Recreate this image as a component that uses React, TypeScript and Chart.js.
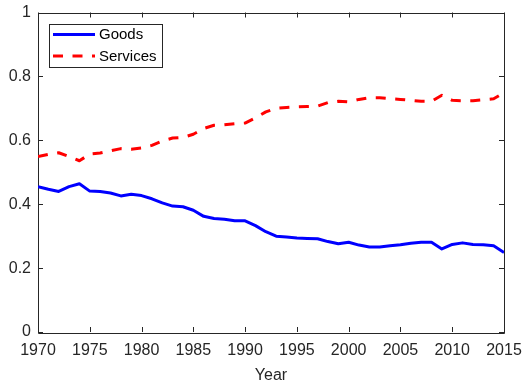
import React, { useEffect, useRef } from "react";
import { Chart, registerables } from "chart.js";

Chart.register(...registerables);

// Shares of goods and services, 1970-2015
const years: number[] = [
  1970, 1971, 1972, 1973, 1974, 1975, 1976, 1977, 1978, 1979,
  1980, 1981, 1982, 1983, 1984, 1985, 1986, 1987, 1988, 1989,
  1990, 1991, 1992, 1993, 1994, 1995, 1996, 1997, 1998, 1999,
  2000, 2001, 2002, 2003, 2004, 2005, 2006, 2007, 2008, 2009,
  2010, 2011, 2012, 2013, 2014, 2015,
];

const goodsShare: number[] = [
  0.455, 0.447, 0.440, 0.455, 0.464, 0.441, 0.440, 0.435, 0.426, 0.431,
  0.427, 0.417, 0.404, 0.394, 0.392, 0.381, 0.362, 0.355, 0.353, 0.348,
  0.348, 0.333, 0.314, 0.300, 0.297, 0.294, 0.293, 0.292, 0.283, 0.276,
  0.281, 0.272, 0.266, 0.266, 0.270, 0.273, 0.278, 0.281, 0.281, 0.260,
  0.274, 0.279, 0.274, 0.273, 0.270, 0.249,
];

const servicesShare: number[] = [
  0.549, 0.556, 0.561, 0.549, 0.536, 0.557, 0.560, 0.567, 0.574, 0.572,
  0.576, 0.584, 0.598, 0.607, 0.609, 0.619, 0.637, 0.647, 0.649, 0.652,
  0.654, 0.670, 0.689, 0.700, 0.703, 0.705, 0.706, 0.707, 0.718, 0.722,
  0.720, 0.728, 0.733, 0.733, 0.730, 0.728, 0.725, 0.722, 0.722, 0.741,
  0.725, 0.724, 0.724, 0.727, 0.730, 0.749,
];

const seriesLabels: string[] = ["Goods", "Services"];
const xTicks: number[] = [1970, 1975, 1980, 1985, 1990, 1995, 2000, 2005, 2010, 2015];
const yTicks: number[] = [0, 0.2, 0.4, 0.6, 0.8, 1];

const FONT = "'Liberation Sans', Arial, Helvetica, sans-serif";
const AXIS_COLOR = "#262626";
const GOODS_COLOR = "#0000ff";
const SERVICES_COLOR = "#ff0000";
const DASH = [10, 9.5];
const LINE_W = 3;

// Box around the plot area with inward tick marks on all four sides
const boxPlugin = {
  id: "axesBox",
  beforeDatasetsDraw(chart: any) {
    const { ctx, chartArea: a, scales } = chart;
    const xs = scales.x;
    const ys = scales.y;
    const tl = 5;
    ctx.save();
    ctx.strokeStyle = AXIS_COLOR;
    ctx.lineWidth = 1;
    ctx.beginPath();
    ctx.rect(Math.round(a.left) + 0.5, Math.round(a.top) + 0.5,
      Math.round(a.right - a.left), Math.round(a.bottom - a.top));
    for (const v of xTicks) {
      const px = Math.round(xs.getPixelForValue(v)) + 0.5;
      ctx.moveTo(px, a.bottom);
      ctx.lineTo(px, a.bottom - tl);
      ctx.moveTo(px, a.top);
      ctx.lineTo(px, a.top + tl);
    }
    for (const v of yTicks) {
      const py = Math.round(ys.getPixelForValue(v)) + 0.5;
      ctx.moveTo(a.left, py);
      ctx.lineTo(a.left + tl, py);
      ctx.moveTo(a.right, py);
      ctx.lineTo(a.right - tl, py);
    }
    ctx.stroke();
    ctx.restore();
  },
};

// Legend in the upper-left corner of the plot area
const legendPlugin = {
  id: "cornerLegend",
  afterDraw(chart: any) {
    const { ctx, chartArea: a } = chart;
    const x0 = a.left + 11;
    const y0 = a.top + 11;
    const w = 113;
    const h = 43;
    ctx.save();
    ctx.fillStyle = "#ffffff";
    ctx.fillRect(x0, y0, w, h);
    ctx.strokeStyle = AXIS_COLOR;
    ctx.lineWidth = 1;
    ctx.strokeRect(Math.round(x0) + 0.5, Math.round(y0) + 0.5, w, h);
    const rows = [
      { label: seriesLabels[0], color: GOODS_COLOR, dash: [] as number[] },
      { label: seriesLabels[1], color: SERVICES_COLOR, dash: DASH },
    ];
    rows.forEach((r, i) => {
      const y = y0 + 11 + i * 21.4;
      ctx.beginPath();
      ctx.setLineDash(r.dash);
      ctx.strokeStyle = r.color;
      ctx.lineWidth = LINE_W;
      ctx.moveTo(x0 + 4, y);
      ctx.lineTo(x0 + 46, y);
      ctx.stroke();
      ctx.setLineDash([]);
      ctx.fillStyle = "#000000";
      ctx.font = `15px ${FONT}`;
      ctx.textBaseline = "middle";
      ctx.textAlign = "left";
      ctx.fillText(r.label, x0 + 50, y + 0.5);
    });
    ctx.restore();
  },
};

export default function App() {
  const canvasRef = useRef<HTMLCanvasElement | null>(null);

  useEffect(() => {
    const canvas = canvasRef.current;
    if (!canvas) return;
    const chart = new Chart(canvas, {
      type: "line",
      data: {
        datasets: [
          {
            label: seriesLabels[0],
            data: years.map((yr, i) => ({ x: yr, y: goodsShare[i] })),
            borderColor: GOODS_COLOR,
            borderWidth: LINE_W,
            pointRadius: 0,
            tension: 0,
            fill: false,
            borderJoinStyle: "round",
          },
          {
            label: seriesLabels[1],
            data: years.map((yr, i) => ({ x: yr, y: servicesShare[i] })),
            borderColor: SERVICES_COLOR,
            borderWidth: LINE_W,
            borderDash: DASH,
            pointRadius: 0,
            tension: 0,
            fill: false,
            borderJoinStyle: "round",
          },
        ],
      },
      options: {
        responsive: false,
        animation: false,
        events: [],
        layout: { padding: { left: 8, top: 12.5, right: 22, bottom: 0 } },
        plugins: {
          legend: { display: false },
          tooltip: { enabled: false },
        },
        scales: {
          x: {
            type: "linear",
            min: 1970,
            max: 2015,
            afterFit: (s: any) => {
              s.height = 50;
              s.paddingLeft = 0;
              s.paddingRight = 0;
            },
            afterBuildTicks: (s: any) => {
              s.ticks = xTicks.map((v) => ({ value: v }));
            },
            grid: { display: false, drawTicks: false },
            border: { display: false },
            ticks: {
              color: AXIS_COLOR,
              font: { family: FONT, size: 16, lineHeight: 1.2 },
              padding: 9,
              maxRotation: 0,
              autoSkip: false,
              callback: (v: any) => String(v),
            },
            title: {
              display: true,
              text: "Year",
              color: AXIS_COLOR,
              font: { family: FONT, size: 16, lineHeight: 1 },
              padding: { top: 0, bottom: -2 },
            },
          },
          y: {
            type: "linear",
            min: 0,
            max: 1,
            afterFit: (s: any) => {
              s.width = 30;
              s.paddingTop = 0;
              s.paddingBottom = 0;
            },
            afterBuildTicks: (s: any) => {
              s.ticks = yTicks.map((v) => ({ value: v }));
            },
            grid: { display: false, drawTicks: false },
            border: { display: false },
            ticks: {
              color: AXIS_COLOR,
              font: { family: FONT, size: 16, lineHeight: 1.2 },
              padding: 7,
              autoSkip: false,
              callback: (v: any) => String(Math.round(v * 10) / 10),
            },
          },
        },
      },
      plugins: [boxPlugin, legendPlugin],
    });
    return () => chart.destroy();
  }, []);

  return (
    <div style={{ position: "fixed", left: 0, top: 0, width: 526, height: 382, background: "#ffffff" }}>
      <canvas ref={canvasRef} width={526} height={382} />
    </div>
  );
}
